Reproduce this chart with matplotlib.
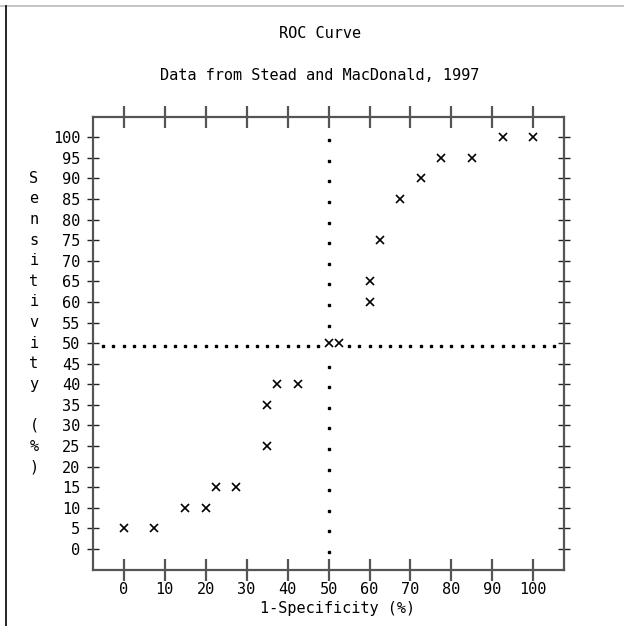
import numpy as np
import matplotlib
matplotlib.use("Agg")
import matplotlib.pyplot as plt
from matplotlib import transforms
from matplotlib.lines import Line2D

# ROC points
fpr = [0, 7.5, 15, 20, 22.5, 27.5, 35, 35, 37.5, 42.5,
       50, 52.5, 60, 60, 62.5, 67.5, 72.5, 77.5, 85, 92.5, 100]
sens = [5, 5, 10, 10, 15, 15, 25, 35, 40, 40,
        50, 50, 60, 65, 75, 85, 90, 95, 95, 100, 100]

xticks = [0, 10, 20, 30, 40, 50, 60, 70, 80, 90, 100]
yticks = list(range(0, 101, 5))
href = 50
vref = 50

title = "ROC Curve"
subtitle = "Data from Stead and MacDonald, 1997"
xlabel = "1-Specificity (%)"
ylabel = "Sensitivity (%)"

mono = "DejaVu Sans Mono"
fs = 11

fig = plt.figure(figsize=(6.24, 6.26), dpi=100)
ax = fig.add_axes([0.149, 0.0895, 0.755, 0.7235])

ax.set_xlim(-7.5, 107.5)
ax.set_ylim(-5.1, 104.9)

# reference lines drawn as printer periods (one per character cell)
dot_tr = transforms.offset_copy(ax.transData, fig=fig, x=0, y=-3, units="dots")
hx = np.arange(-5, 105.1, 2.5)
hx = hx[(hx != 50) & (hx != 52.5)]
ax.plot(hx, np.full(len(hx), vref), ls="none", marker="s", ms=1.6,
        color="black", transform=dot_tr, clip_on=False)
vy = np.arange(0, 100.1, 5)
vy = vy[vy != vref]
ax.plot(np.full(len(vy), href), vy, ls="none", marker="s", ms=1.6,
        color="black", transform=dot_tr, clip_on=False)

ax.plot(fpr, sens, ls="none", marker="x", ms=6, mew=1.2, color="black")

for side in ax.spines.values():
    side.set_color("#555555")
    side.set_linewidth(1.6)

ax.set_xticks(xticks)
ax.set_yticks(yticks)
ax.tick_params(axis="x", direction="inout", length=16, width=1.6,
               color="#555555", top=True, labeltop=False, pad=1,
               labelsize=fs)
ax.tick_params(axis="y", direction="inout", length=8, width=1,
               color="#222222", right=True, labelright=False, pad=5,
               labelsize=fs)
for lab in ax.get_xticklabels() + ax.get_yticklabels():
    lab.set_family(mono)

# x label sits just under the tick labels
fig.text(338 / 624, 1 - 609 / 626, xlabel, family=mono, fontsize=fs,
         ha="center", va="center")

# vertical axis label, one character per printer row
lab_tr = transforms.blended_transform_factory(fig.transFigure, ax.transData)
for i, ch in enumerate(ylabel):
    ax.text(34 / 624, 90 - 5 * i, ch, transform=lab_tr, family=mono,
            fontsize=fs, ha="center", va="center")

fig.text(0.513, 1 - 34 / 626, title, family=mono, fontsize=fs,
         ha="center", va="center")
fig.text(0.512, 1 - 75 / 626, subtitle, family=mono, fontsize=fs,
         ha="center", va="center")

# page border from the printed output
fig.add_artist(Line2D([0, 1], [1 - 6 / 626] * 2, color="#bbbbbb", lw=1.2))
fig.add_artist(Line2D([6 / 624] * 2, [0, 1 - 6 / 626], color="black", lw=1.2))

plt.savefig("out.png", dpi=100)
plt.close("all")
